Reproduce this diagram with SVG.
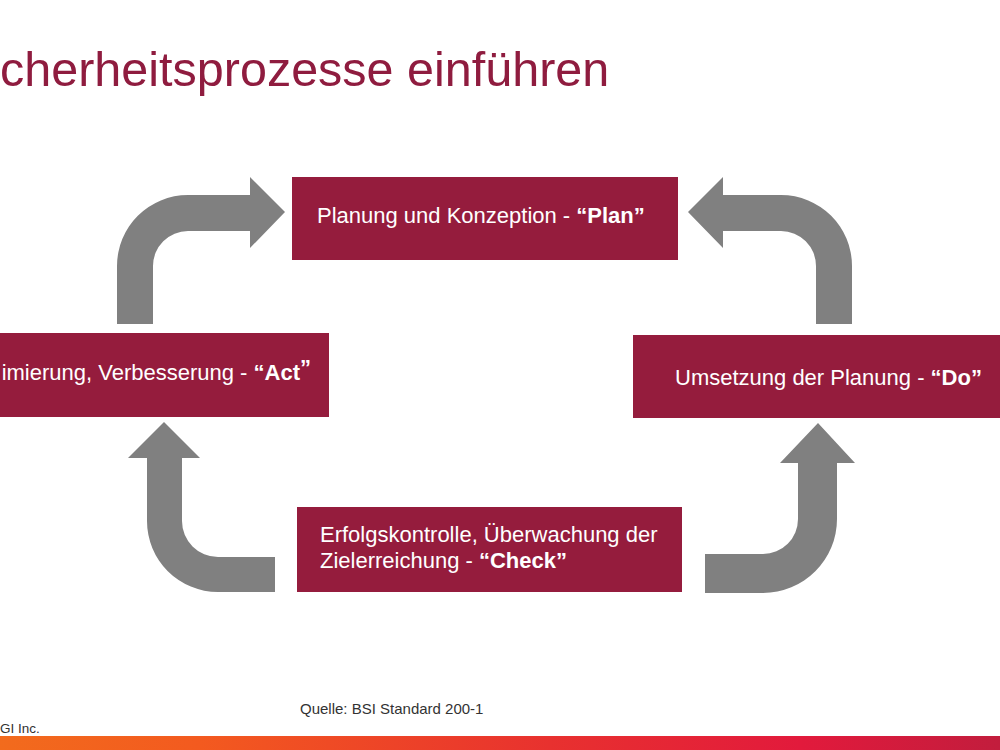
<svg xmlns="http://www.w3.org/2000/svg" width="1000" height="750" viewBox="0 0 1000 750">
<defs>
<style>
.box{fill:#951c3d}
.lbl{font-family:"Liberation Sans",Arial,sans-serif;font-size:22px;fill:#ffffff}
.b{font-weight:bold}
.arrow{fill:#808080}
.title{font-family:"Liberation Sans",Arial,sans-serif;font-size:48.5px;fill:#8f1c3f}
.foot{font-family:"Liberation Sans",Arial,sans-serif;fill:#333333}
</style>
<linearGradient id="bar" x1="0" y1="0" x2="1" y2="0">
<stop offset="0" stop-color="#f26b1d"/>
<stop offset="0.2" stop-color="#f35a1f"/>
<stop offset="0.55" stop-color="#e8312f"/>
<stop offset="0.8" stop-color="#e21a3c"/>
<stop offset="1" stop-color="#c21d3d"/>
</linearGradient>
</defs>
<rect width="1000" height="750" fill="#ffffff"/>
<text class="title" x="0" y="86">cherheitsprozesse einführen</text>

<g id="connectors">
<path class="arrow" d="M117,324 L117,266 A71,71 0 0 1 188,195 L250,195 L250,177 L285,212 L250,248 L250,231 L188,231 A35,35 0 0 0 153,266 L153,324 Z"/>
<path class="arrow" d="M852,324 L852,266 A71,71 0 0 0 781,195 L723,195 L723,177 L688,212 L723,248 L723,231 L781,231 A35,35 0 0 1 816,266 L816,324 Z"/>
<path class="arrow" d="M275,592 L218,592 A71,71 0 0 1 147,521 L147,458 L128,458 L164,422 L200,458 L182,458 L182,521 A36,36 0 0 0 218,557 L275,557 Z"/>
<path class="arrow" d="M705,593 L763,593 A74,74 0 0 0 837,519 L837,463 L855,463 L818,423 L780,463 L798,463 L798,519 A35,35 0 0 1 763,554 L705,554 Z"/>
</g>

<g id="plan">
<rect class="box" x="292" y="177" width="386" height="83"/>
<text class="lbl" x="317" y="223" font-size="21.5">Planung und Konzeption - <tspan class="b">“Plan”</tspan></text>
</g>
<g id="act">
<rect class="box" x="0" y="333" width="329" height="84"/>
<text class="lbl" x="311" y="380" text-anchor="end">imierung, Verbesserung - <tspan class="b">“Act</tspan><tspan class="b" dy="-5">”</tspan></text>
</g>
<g id="do">
<rect class="box" x="633" y="335" width="367" height="83"/>
<text class="lbl" x="675" y="385">Umsetzung der Planung - <tspan class="b">“Do”</tspan></text>
</g>
<g id="check">
<rect class="box" x="297" y="507" width="385" height="85"/>
<text class="lbl" x="320" y="542">Erfolgskontrolle, Überwachung der</text>
<text class="lbl" x="320" y="568">Zielerreichung - <tspan class="b">“Check”</tspan></text>
</g>

<text class="foot" x="300" y="714" font-size="15">Quelle: BSI Standard 200-1</text>
<text class="foot" x="0" y="733" font-size="13.5">GI Inc.</text>
<rect x="0" y="736" width="1000" height="14" fill="url(#bar)"/>
</svg>
